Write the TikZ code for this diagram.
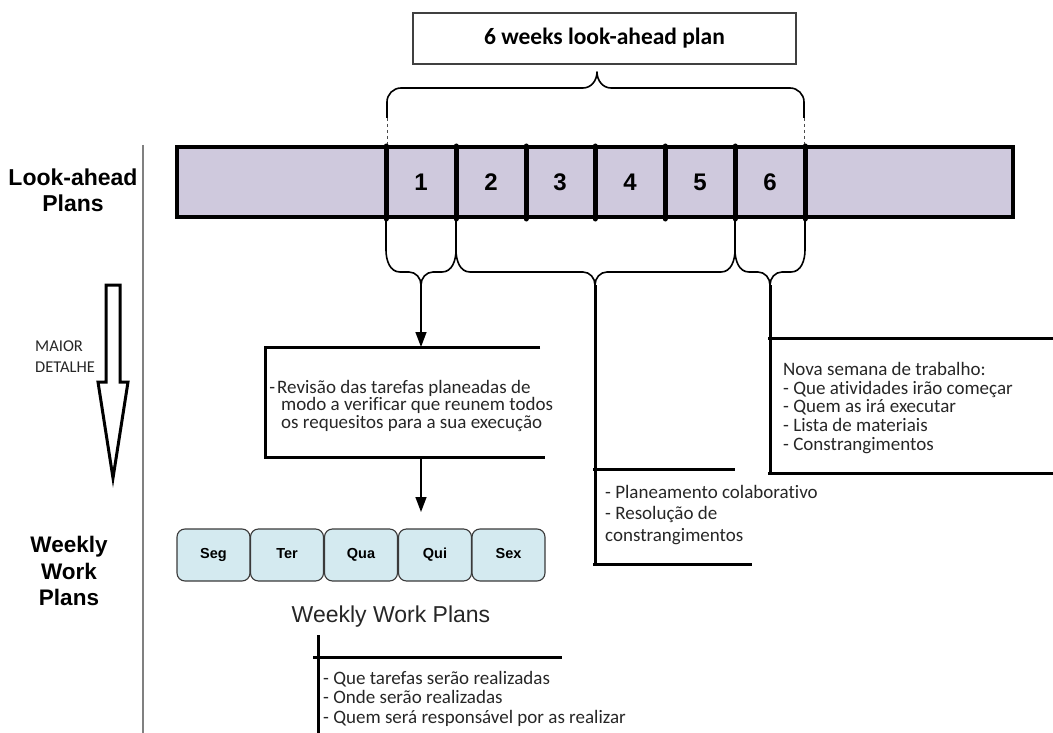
\documentclass[tikz,border=0pt]{standalone}
\usepackage{fontspec}
\setmainfont{Carlito}[Ligatures={TeX,NoCommon}]
\newfontfamily\arialf{Liberation Sans}
\usetikzlibrary{arrows.meta}
\definecolor{lav}{HTML}{CFC9DD}
\definecolor{dayblue}{HTML}{D4EAF0}
\definecolor{daybord}{HTML}{3A3A3A}
\tikzset{
  brace/.style={line width=1.6pt, line join=round},
  openbox/.style={line width=3pt},
  divider/.style={line width=5pt, line cap=round},
  conn/.style={line width=1.4pt, -{Triangle[length=15pt,width=11pt]}},
  daybox/.style={draw=daybord, fill=dayblue, line width=1.1pt, rounded corners=8pt,
     minimum width=73pt, minimum height=52pt, inner sep=0pt, text height=10.5pt, text depth=3pt,
     font=\arialf\bfseries\fontsize{14.5}{14.5}\selectfont},
  num/.style={font=\arialf\bfseries\fontsize{24}{24}\selectfont},
  note/.style={anchor=north west, inner sep=0pt, align=left, text=black!85}
}
\newcommand\bracedown[3]{(#1,219) -- (#1,250) to[out=-90,in=180] ({#1+14},272) -- ({#2-12},272) to[out=0,in=90] (#2,285) to[out=90,in=180] ({#2+12},272) -- ({#3-14},272) to[out=0,in=-90] (#3,250) -- (#3,219)}
\begin{document}
\begin{tikzpicture}[x=1pt,y=-1pt]
\useasboundingbox (0,0) rectangle (1053,733);
% left labels
\node[font=\arialf\bfseries\fontsize{23}{26}\selectfont, align=center] (lah) at (73,190) {Look-ahead\\Plans};
\node[font=\arialf\bfseries\fontsize{22.5}{26.5}\selectfont, align=center] (wwp) at (69,571) {Weekly\\Work\\Plans};
\draw[line width=1.5pt, black!50] (143,145) -- (143,733);
% hollow arrow
\draw[line width=3pt, fill=white, line join=miter] (106,285) -- (120,285) -- (120,382) -- (128,382) -- (113,478) -- (98,382) -- (106,382) -- cycle;
\node[anchor=west, align=left, inner sep=0pt, font=\fontsize{16.5}{21}\selectfont, text=black!85] (maior) at (35,357) {MAIOR\\DETALHE};
% title
\node[draw=black!75, line width=1.3pt, minimum width=383pt, minimum height=51pt, font=\bfseries\fontsize{23.5}{24}\selectfont] (title) at (604.5,38.5) {6 weeks look-ahead plan};
% top brace
\coordinate (ttip) at (597,72);
\draw[brace] (387,118) -- (387,102) to[out=90,in=180] (401,88) -- (583,88) to[out=0,in=-90] (ttip) to[out=-90,in=180] (611,88) -- (790,88) to[out=0,in=90] (804,102) -- (804,118);
\draw[line width=1pt, dashed, black!70] (387,118) -- (387,146);
\draw[line width=1pt, dashed, black!70] (804,118) -- (804,146);
% bar
\draw[fill=lav, line width=3.5pt] (177,147) rectangle (1013,217);
\foreach \x in {386,456,526,595,665,735,805} \draw[divider] (\x,146) -- (\x,219);
\foreach \i/\x in {1/421,2/491,3/560,4/630,5/700,6/770} \node[num] (n\i) at (\x,182) {\i};
% lower braces
\coordinate (tip1) at (421,285);
\coordinate (tip2) at (595,285);
\coordinate (tip3) at (770,285);
\draw[brace] \bracedown{386}{421}{456};
\draw[brace] \bracedown{456}{595}{735};
\draw[brace] \bracedown{735}{770}{805};
% box 1 (Revisao)
\coordinate (b1top) at (421,347);
\coordinate (b1bot) at (421,457);
\draw[openbox] (540,347) -- (265,347) -- (265,457) -- (545,457);
\draw[conn] (tip1) -- (b1top);
\node[note, font=\fontsize{19}{17.5}\selectfont] (rev) at (277,380) {\llap{-\hspace{2pt}}Revisão das tarefas planeadas de\\\hspace*{4pt}modo a verificar que reunem todos\\\hspace*{4pt}os requesitos para a sua execução};
% days
\node[daybox] (seg) at (213.5,555) {Seg};
\node[daybox] (ter) at (287,555) {Ter};
\node[daybox] (qua) at (361,555) {Qua};
\node[daybox] (qui) at (435,555) {Qui};
\node[daybox] (sex) at (508.5,555) {Sex};
\coordinate (arr2end) at (421,512);
\draw[conn] (b1bot) -- (arr2end);
\node[font=\arialf\fontsize{23}{23}\selectfont, text=black!85] (wwplab) at (391,617) {Weekly Work Plans};
% bottom box
\draw[openbox] (318,635) -- (318,733);
\draw[openbox] (313,657) -- (562,657);
\node[note, font=\fontsize{19}{19.5}\selectfont] (bot) at (323,671) {- Que tarefas serão realizadas\\- Onde serão realizadas\\- Quem será responsável por as realizar};
% middle box
\draw[openbox] (tip2) -- (595,564);
\draw[openbox] (593,469) -- (735,469);
\draw[openbox] (593,564) -- (752,564);
\node[note, font=\fontsize{19}{21.5}\selectfont] (mid) at (605,485) {- Planeamento colaborativo\\- Resolução de\\constrangimentos};
% right box
\draw[openbox] (tip3) -- (770,473);
\draw[openbox] (768,338) -- (1053,338);
\draw[openbox] (768,473) -- (1053,473);
\node[note, font=\fontsize{19}{18.7}\selectfont] (nova) at (783,362) {Nova semana de trabalho:\\- Que atividades irão começar\\- Quem as irá executar\\- Lista de materiais\\- Constrangimentos};
\end{tikzpicture}
\end{document}
